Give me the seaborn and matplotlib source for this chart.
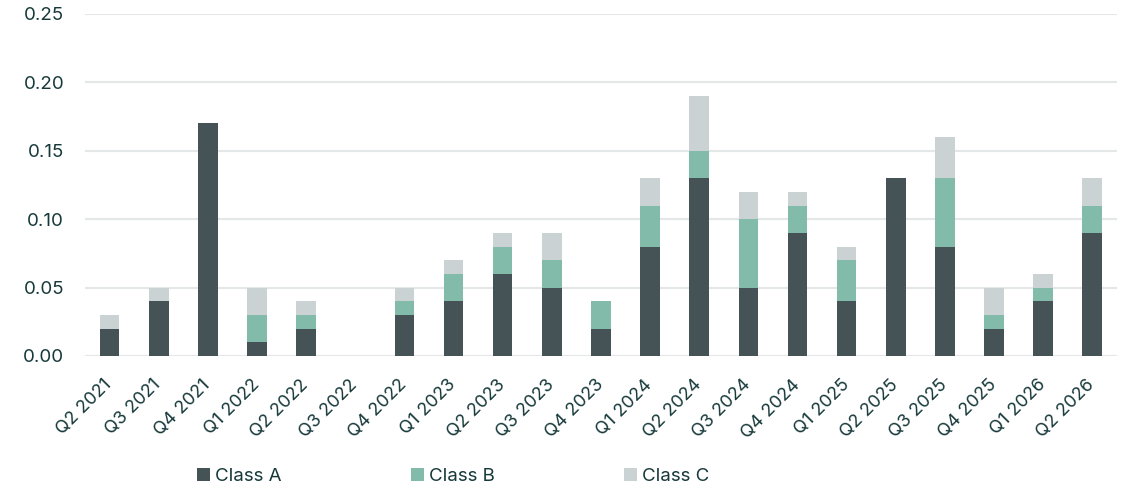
import matplotlib
matplotlib.use("Agg")
import matplotlib.pyplot as plt
import seaborn as sns
import pandas as pd
import numpy as np
from matplotlib.patches import Patch

categories = ["Q2 2021", "Q3 2021", "Q4 2021", "Q1 2022", "Q2 2022", "Q3 2022", "Q4 2022",
              "Q1 2023", "Q2 2023", "Q3 2023", "Q4 2023", "Q1 2024", "Q2 2024", "Q3 2024",
              "Q4 2024", "Q1 2025", "Q2 2025", "Q3 2025", "Q4 2025", "Q1 2026", "Q2 2026"]
class_a = [0.02, 0.04, 0.17, 0.01, 0.02, 0.00, 0.03, 0.04, 0.06, 0.05, 0.02, 0.08, 0.13, 0.05,
           0.09, 0.04, 0.13, 0.08, 0.02, 0.04, 0.09]
class_b = [0.00, 0.00, 0.00, 0.02, 0.01, 0.00, 0.01, 0.02, 0.02, 0.02, 0.02, 0.03, 0.02, 0.05,
           0.02, 0.03, 0.00, 0.05, 0.01, 0.01, 0.02]
class_c = [0.01, 0.01, 0.00, 0.02, 0.01, 0.00, 0.01, 0.01, 0.01, 0.02, 0.00, 0.02, 0.04, 0.02,
           0.01, 0.01, 0.00, 0.03, 0.02, 0.01, 0.02]
series_names = ["Class A", "Class B", "Class C"]
yticks = [0.00, 0.05, 0.10, 0.15, 0.20, 0.25]

col_a = "#455356"
col_b = "#82bbaa"
col_c = "#cbd2d3"
text_col = "#17393a"
grid_col = "#e3e7e7"

df = pd.DataFrame({"quarter": categories, "A": class_a, "B": class_b, "C": class_c})
df["AB"] = df["A"] + df["B"]
df["ABC"] = df["AB"] + df["C"]

sns.set_theme(style="white")
plt.rcParams["font.family"] = ["Inter", "DejaVu Sans"]

fig = plt.figure(figsize=(11.27, 4.91), dpi=100)
ax = fig.add_axes([0.0754, 0.275, 0.9156, 0.6965])

bw = 0.4
for col, c in (("ABC", col_c), ("AB", col_b), ("A", col_a)):
    sns.barplot(data=df, x="quarter", y=col, color=c, width=bw, ax=ax, saturation=1,
                errorbar=None, linewidth=0)

ax.set_ylim(0, 0.25)
ax.set_xlim(-0.5, 20.5)
ax.set_yticks(yticks)
ax.set_yticklabels([f"{v:.2f}" for v in yticks], fontsize=13.5, color=text_col)
ax.set_xticks(range(len(categories)))
ax.set_xticklabels(categories, rotation=45, ha="right", va="center", rotation_mode="anchor",
                   fontsize=13, color=text_col)
ax.tick_params(axis="y", length=0, pad=15)
ax.tick_params(axis="x", length=0, pad=19)
ax.set_xlabel("")
ax.set_ylabel("")
for s in ax.spines.values():
    s.set_visible(False)
ax.yaxis.grid(True, color=grid_col, linewidth=1.5)
ax.set_axisbelow(True)

handles = [Patch(facecolor=c, edgecolor="none") for c in (col_a, col_b, col_c)]
fig.legend(handles, series_names, loc="center left", bbox_to_anchor=(0.16, 0.03),
           ncol=3, frameon=False, fontsize=13.5, labelcolor=text_col,
           handlelength=0.7, handleheight=0.7, handletextpad=0.25, columnspacing=6.9)

fig.savefig("out.png", dpi=100)
